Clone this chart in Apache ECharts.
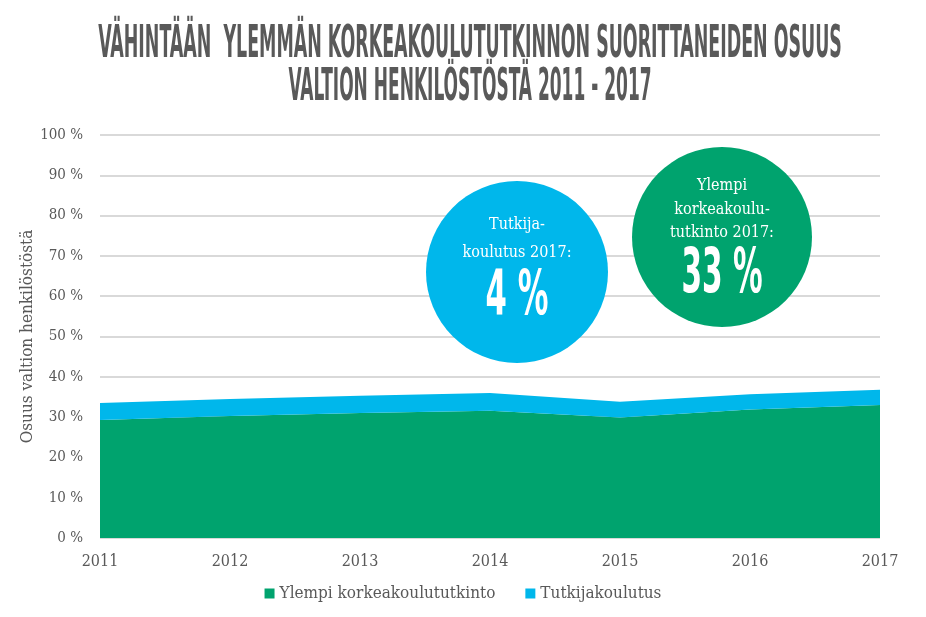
<!DOCTYPE html>
<html>
<head>
<meta charset="utf-8">
<script src="https://cdn.jsdelivr.net/npm/echarts@6/dist/echarts.min.js"></script>
<style>
  html, body { margin: 0; padding: 0; background: #fff; }
  #container { width: 926px; height: 617px; }
</style>
</head>
<body>
<div id="container"></div>
<script>
var years = ['2011', '2012', '2013', '2014', '2015', '2016', '2017'];
var ylempi = [29.3, 30.3, 31.0, 31.6, 29.9, 31.9, 33.0];
var tutkija = [4.2, 4.2, 4.3, 4.4, 3.9, 3.8, 3.8];
var yTicks = [0, 10, 20, 30, 40, 50, 60, 70, 80, 90, 100];

var green = '#00a36e';
var blue = '#00b7eb';
var textColor = '#595959';
var slab = '"DejaVu Serif Condensed", "DejaVu Serif", serif';

var dom = document.getElementById('container');
var myChart = echarts.init(dom);

// big condensed headline text, squeezed horizontally
function squeezed(text, x, y, size, sx, color) {
    return {
        type: 'text',
        x: x,
        y: y,
        scaleX: sx,
        style: {
            text: text,
            fill: color,
            font: 'bold ' + size + 'px "DejaVu Sans Condensed", "Liberation Sans", sans-serif',
            textAlign: 'center',
            textVerticalAlign: 'middle'
        },
        z: 10
    };
}

function small(text, x, y) {
    return {
        type: 'text',
        x: x,
        y: y,
        style: {
            text: text,
            fill: '#fff',
            font: '16px ' + slab,
            textAlign: 'center',
            textVerticalAlign: 'middle'
        },
        z: 10
    };
}

var option = {
    animation: false,
    grid: { left: 100, right: 46, top: 135, bottom: 79 },
    legend: {
        bottom: 10,
        left: 'center',
        itemWidth: 10,
        itemHeight: 10,
        itemGap: 30,
        icon: 'rect',
        textStyle: { color: textColor, fontSize: 17, fontFamily: slab },
        data: ['Ylempi korkeakoulututkinto', 'Tutkijakoulutus']
    },
    xAxis: {
        type: 'category',
        boundaryGap: false,
        data: years,
        axisLine: { show: false },
        axisTick: { show: false },
        axisLabel: { color: textColor, fontSize: 16, fontFamily: slab, margin: 16 }
    },
    yAxis: {
        type: 'value',
        min: 0,
        max: 100,
        interval: 10,
        name: 'Osuus valtion henkilöstöstä',
        nameLocation: 'middle',
        nameGap: 64,
        nameMoveOverlap: false,
        nameTextStyle: { color: textColor, fontSize: 17, fontFamily: slab },
        axisLabel: {
            color: textColor, fontSize: 15, fontFamily: slab, margin: 17,
            formatter: function (v) { return yTicks.indexOf(v) >= 0 ? v + ' %' : ''; }
        },
        splitLine: { lineStyle: { color: '#d9d9d9', width: 2 } }
    },
    series: [{
        name: 'Ylempi korkeakoulututkinto',
        type: 'line',
        stack: 'total',
        data: ylempi,
        symbol: 'none',
        lineStyle: { width: 0 },
        areaStyle: { color: green, opacity: 1 },
        itemStyle: { color: green }
    }, {
        name: 'Tutkijakoulutus',
        type: 'line',
        stack: 'total',
        data: tutkija,
        symbol: 'none',
        lineStyle: { width: 0 },
        areaStyle: { color: blue, opacity: 1 },
        itemStyle: { color: blue }
    }],
    graphic: [
        squeezed('VÄHINTÄÄN  YLEMMÄN KORKEAKOULUTUTKINNON SUORITTANEIDEN OSUUS', 470, 46, 44, 0.44, textColor),
        squeezed('VALTION HENKILÖSTÖSTÄ 2011 - 2017', 470, 89, 44, 0.43, textColor),
        { type: 'circle', shape: { cx: 517, cy: 272, r: 91 }, style: { fill: blue }, z: 9 },
        { type: 'circle', shape: { cx: 722, cy: 237, r: 90 }, style: { fill: green }, z: 9 },
        small('Tutkija-', 517, 225),
        small('koulutus 2017:', 517, 253),
        squeezed('4 %', 517, 298, 62, 0.55, '#fff'),
        small('Ylempi', 722, 186),
        small('korkeakoulu-', 722, 210),
        small('tutkinto 2017:', 722, 233),
        squeezed('33 %', 722, 276, 62, 0.53, '#fff')
    ]
};

myChart.setOption(option);
</script>
</body>
</html>
